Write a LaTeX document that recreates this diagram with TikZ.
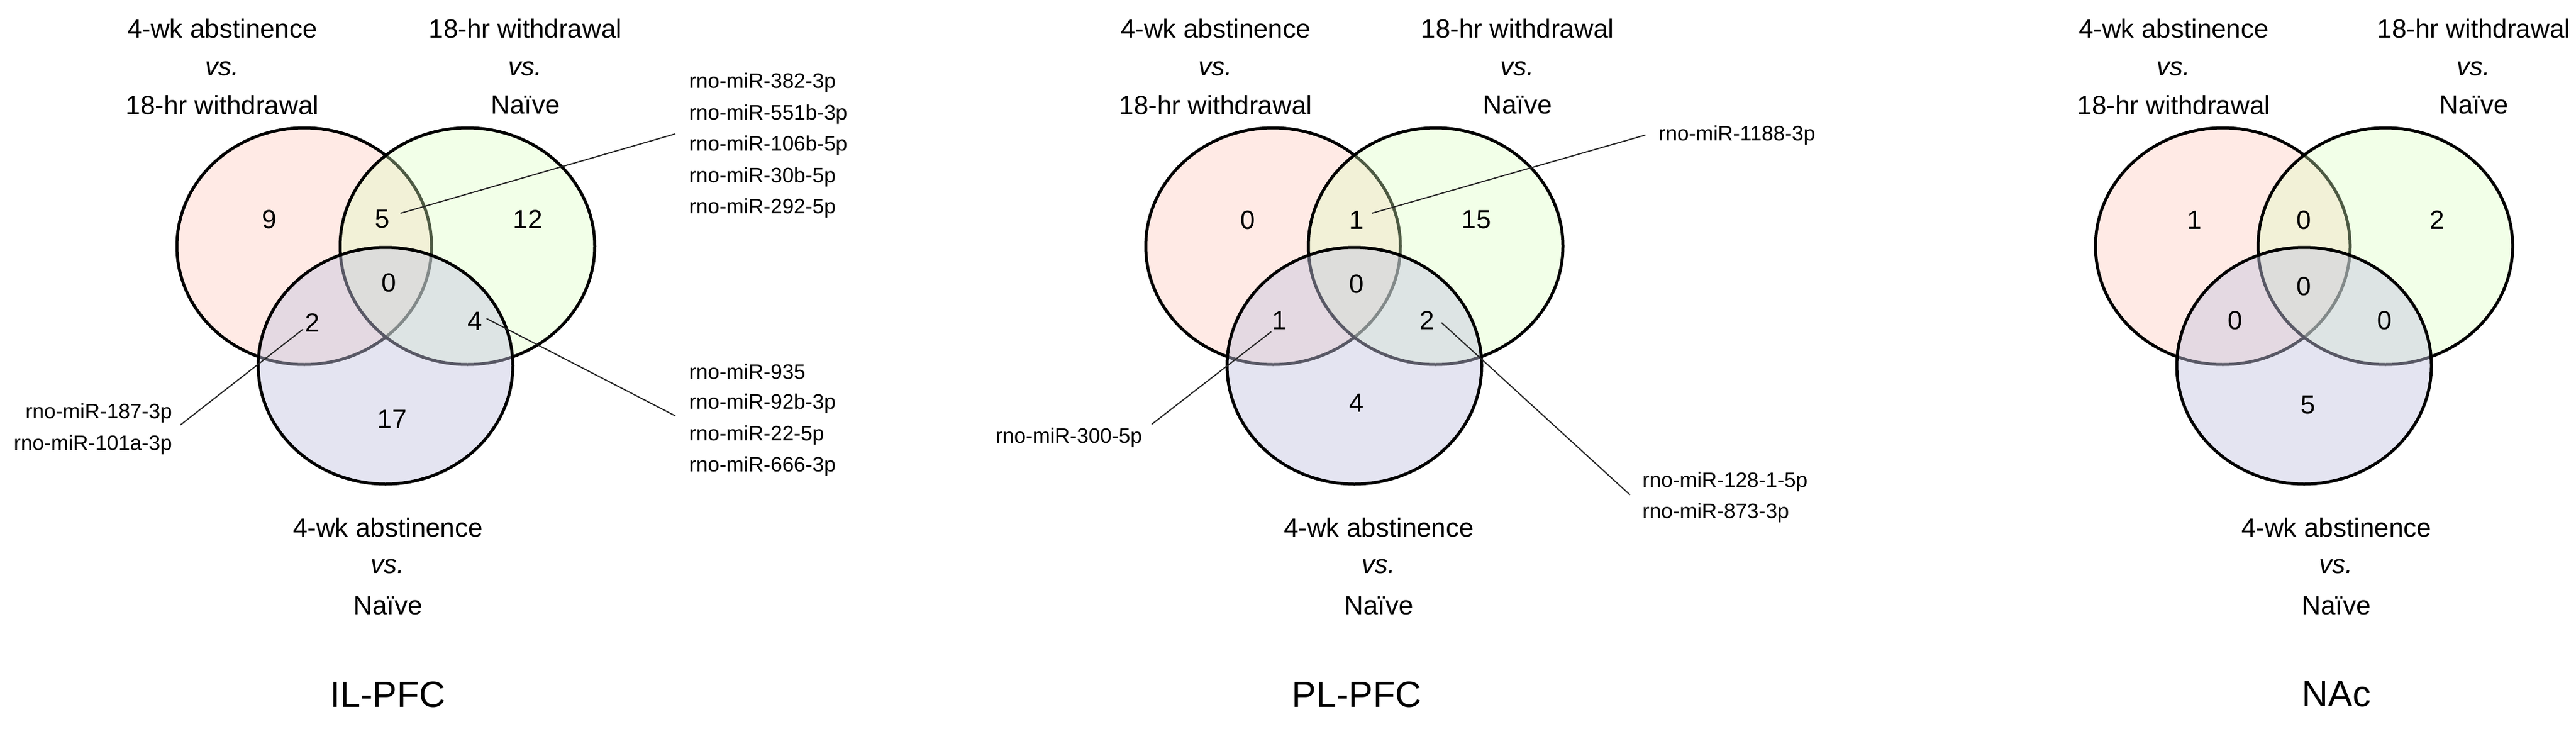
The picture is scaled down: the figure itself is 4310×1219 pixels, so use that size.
\documentclass[tikz,border=0pt]{standalone}
\usepackage{fontspec}
\setmainfont{Liberation Sans}
\begin{document}
\begin{tikzpicture}[x=1pt,y=-1pt,
  ttl/.style={font=\fontsize{44}{52}\selectfont,align=center,inner sep=0},
  num/.style={font=\fontsize{44}{52}\selectfont,inner sep=0},
  mir/.style={font=\fontsize{35}{42}\selectfont,inner sep=0},
  reg/.style={font=\fontsize{61}{70}\selectfont,inner sep=0},
  lead/.style={line width=2pt,black!85},
  cL/.style={fill=orange!40!red!25,fill opacity=0.4,draw=black,line width=5pt},
  cR/.style={fill=green!40!lime!25,fill opacity=0.35,draw=black,line width=5pt},
  cB/.style={fill=blue!30!gray!35,fill opacity=0.45,draw=black,line width=5pt}]
\useasboundingbox (0,0) rectangle (4310,1219);
\fill[white] (0,0) rectangle (4310,1219);
% ---------- IL-PFC
\draw[cL] (509,412) ellipse [x radius=213,y radius=198];
\draw[cR] (782,412) ellipse [x radius=213,y radius=198];
\draw[cB] (645,612) ellipse [x radius=213,y radius=198];
\node[ttl] (a1) at (372,48) {4-wk abstinence};
\node[ttl] (a2) at (372,115) {\itshape vs.};
\node[ttl] (a3) at (372,176) {18-hr withdrawal};
\node[ttl] (a4) at (879,48) {18-hr withdrawal};
\node[ttl] (a5) at (879,115) {\itshape vs.};
\node[ttl] (a6) at (879,176) {Naïve};
\node[ttl] (a7) at (649,883) {4-wk abstinence};
\node[ttl] (a8) at (649,948) {\itshape vs.};
\node[ttl] (a9) at (649,1014) {Naïve};
\node[reg] (ar) at (649,1162) {IL-PFC};
\node[num] (an1) at (451,367) {9};
\node[num] (an2) at (640,367) {5};
\node[num] (an3) at (883,367) {12};
\node[num] (an4) at (651,473) {0};
\node[num] (an5) at (523,540) {2};
\node[num] (an6) at (795,537) {4};
\node[num] (an7) at (656,701) {17};
\node[mir,anchor=west] (am1) at (1153,138) {rno-miR-382-3p};
\node[mir,anchor=west] (am2) at (1153,191) {rno-miR-551b-3p};
\node[mir,anchor=west] (am3) at (1153,243) {rno-miR-106b-5p};
\node[mir,anchor=west] (am4) at (1153,296) {rno-miR-30b-5p};
\node[mir,anchor=west] (am5) at (1153,348) {rno-miR-292-5p};
\node[mir,anchor=west] (am6) at (1153,622) {rno-miR-935};
\node[mir,anchor=west] (am7) at (1153,675) {rno-miR-92b-3p};
\node[mir,anchor=west] (am8) at (1153,728) {rno-miR-22-5p};
\node[mir,anchor=west] (am9) at (1153,780) {rno-miR-666-3p};
\node[mir,anchor=east] (am10) at (288,691) {rno-miR-187-3p};
\node[mir,anchor=east] (am11) at (288,744) {rno-miR-101a-3p};
\coordinate (ap1) at (670,357); \coordinate (aq1) at (1130,224);
\coordinate (ap2) at (507,551); \coordinate (aq2) at (302,711);
\coordinate (ap3) at (814,533); \coordinate (aq3) at (1130,696);
\draw[lead] (ap1) -- (aq1);
\draw[lead] (ap2) -- (aq2);
\draw[lead] (ap3) -- (aq3);
% ---------- PL-PFC
\draw[cL] (2130,412) ellipse [x radius=213,y radius=198];
\draw[cR] (2402,412) ellipse [x radius=213,y radius=198];
\draw[cB] (2266,612) ellipse [x radius=213,y radius=198];
\node[ttl] (b1) at (2034,48) {4-wk abstinence};
\node[ttl] (b2) at (2034,115) {\itshape vs.};
\node[ttl] (b3) at (2034,176) {18-hr withdrawal};
\node[ttl] (b4) at (2539,48) {18-hr withdrawal};
\node[ttl] (b5) at (2539,115) {\itshape vs.};
\node[ttl] (b6) at (2539,176) {Naïve};
\node[ttl] (b7) at (2307,883) {4-wk abstinence};
\node[ttl] (b8) at (2307,948) {\itshape vs.};
\node[ttl] (b9) at (2307,1014) {Naïve};
\node[reg] (br) at (2270,1162) {PL-PFC};
\node[num] (bn1) at (2088,368) {0};
\node[num] (bn2) at (2270,368) {1};
\node[num] (bn3) at (2470,368) {15};
\node[num] (bn4) at (2270,475) {0};
\node[num] (bn5) at (2141,536) {1};
\node[num] (bn6) at (2388,536) {2};
\node[num] (bn7) at (2270,674) {4};
\node[mir,anchor=west] (bm1) at (2775,226) {rno-miR-1188-3p};
\node[mir,anchor=west] (bm2) at (2748,806) {rno-miR-128-1-5p};
\node[mir,anchor=west] (bm3) at (2748,858) {rno-miR-873-3p};
\node[mir,anchor=east] (bm4) at (1911,732) {rno-miR-300-5p};
\coordinate (bp1) at (2295,357); \coordinate (bq1) at (2753,226);
\coordinate (bp2) at (2127,555); \coordinate (bq2) at (1927,710);
\coordinate (bp3) at (2412,540); \coordinate (bq3) at (2727,828);
\draw[lead] (bp1) -- (bq1);
\draw[lead] (bp2) -- (bq2);
\draw[lead] (bp3) -- (bq3);
% ---------- NAc
\draw[cL] (3719,412) ellipse [x radius=213,y radius=198];
\draw[cR] (3991,412) ellipse [x radius=213,y radius=198];
\draw[cB] (3855,612) ellipse [x radius=213,y radius=198];
\node[ttl] (c1) at (3637,48) {4-wk abstinence};
\node[ttl] (c2) at (3637,115) {\itshape vs.};
\node[ttl] (c3) at (3637,176) {18-hr withdrawal};
\node[ttl] (c4) at (4139,48) {18-hr withdrawal};
\node[ttl] (c5) at (4139,115) {\itshape vs.};
\node[ttl] (c6) at (4139,176) {Naïve};
\node[ttl] (c7) at (3909,883) {4-wk abstinence};
\node[ttl] (c8) at (3909,948) {\itshape vs.};
\node[ttl] (c9) at (3909,1014) {Naïve};
\node[reg] (cr) at (3909,1162) {NAc};
\node[num] (cn1) at (3672,368) {1};
\node[num] (cn2) at (3855,368) {0};
\node[num] (cn3) at (4078,368) {2};
\node[num] (cn4) at (3855,479) {0};
\node[num] (cn5) at (3740,536) {0};
\node[num] (cn6) at (3990,536) {0};
\node[num] (cn7) at (3862,678) {5};
\end{tikzpicture}
\end{document}
